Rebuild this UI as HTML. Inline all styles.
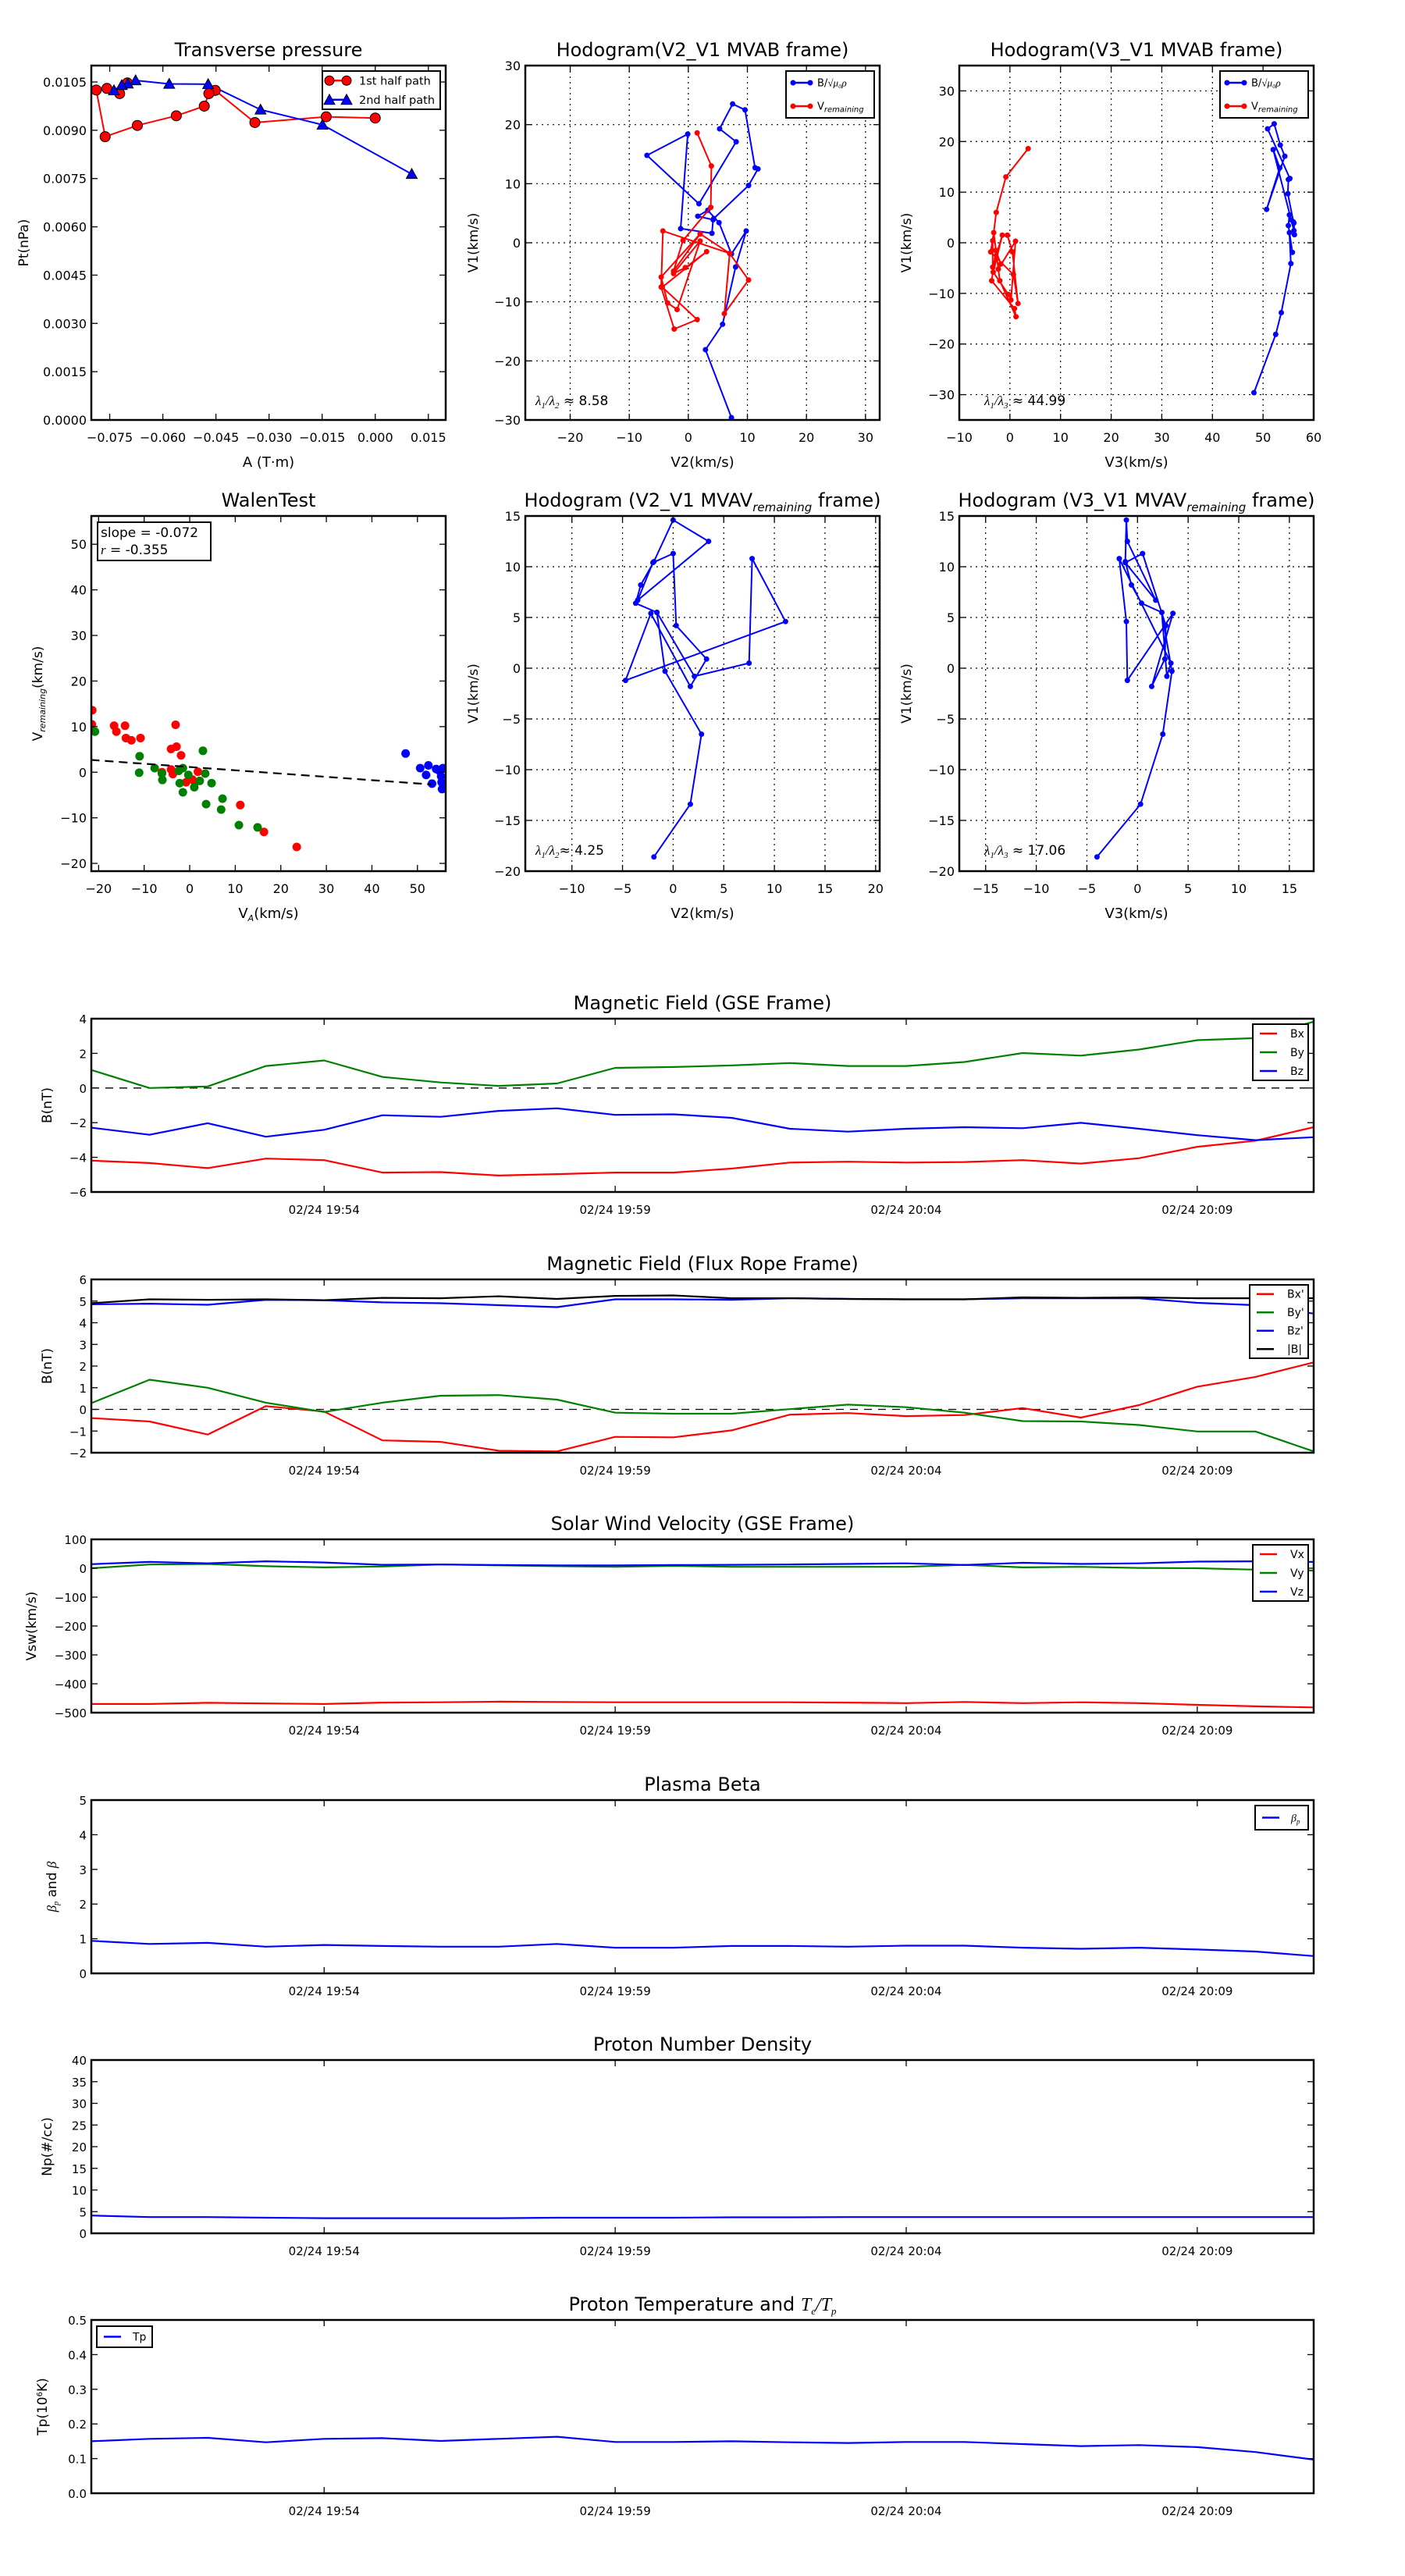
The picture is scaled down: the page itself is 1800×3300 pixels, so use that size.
<!DOCTYPE html>
<html><head><meta charset="utf-8"><title>Flux rope analysis</title>
<style>
html,body{margin:0;padding:0;background:#fff;}
svg{display:block;font-family:"DejaVu Sans","Liberation Sans",sans-serif;}
</style></head>
<body>
<svg id="chart" width="1800" height="3300" viewBox="0 0 1800 3300" xmlns="http://www.w3.org/2000/svg">
<rect x="0" y="0" width="1800" height="3300" fill="#fff"/>
</svg>
<script>
// ---------- data ----------
// Transverse pressure
const ptA1 = [0.0000,-0.01385,-0.0340,-0.0452,-0.0470,-0.0483,-0.0562,-0.0672,-0.0763,-0.0788,-0.0758,-0.0722,-0.0700];
const ptP1 = [0.00938,0.00942,0.00924,0.01024,0.01014,0.00975,0.00945,0.00915,0.00880,0.01025,0.01030,0.01014,0.01047];
const ptA2 = [0.0103,-0.0149,-0.0324,-0.0472,-0.0582,-0.0677,-0.0699,-0.0716,-0.0738];
const ptP2 = [0.00764,0.00917,0.00964,0.01043,0.01044,0.01055,0.01045,0.01040,0.01024];
// Hodogram MVAB
const hbV1 = [-29.6,-18.1,-13.8,-4.1,2.0,-1.9,3.4,5.5,4.5,3.9,1.6,2.4,18.4,14.8,6.6,17.1,19.3,23.5,22.5,12.7,12.5,9.7,4.1];
const hbV2 = [7.3,2.9,5.8,8.0,9.8,7.3,5.2,3.3,1.6,4.2,4.0,-1.3,-0.1,-7.0,1.8,8.1,5.3,7.5,9.6,11.3,11.8,10.2,4.3];
const hbV3 = [48.2,52.5,53.6,55.5,55.2,55.8,55.0,55.2,55.6,56.1,56.2,56.1,52.0,53.3,50.7,54.3,53.4,52.2,50.9,55.3,55.0,54.9,56.0];
const hvV1 = [18.6,13.0,6.0,0.4,-4.8,1.5,-5.8,-10.2,-11.3,0.3,-5.2,-4.2,-1.5,-7.5,-13.0,-14.6,-7.5,2.0,-1.8,-6.3,-12.0,-1.8,1.5];
const hvV2 = [1.5,3.9,3.8,-0.9,-2.5,2.0,-4.6,-3.5,-1.9,2.0,-2.5,-0.5,3.1,-4.4,1.5,-2.4,-4.6,-4.3,7.0,10.2,6.1,7.0,2.0];
const hvV3 = [3.6,-0.8,-2.7,-3.4,-3.4,-1.5,-3.3,-0.3,0.2,1.1,-2.3,-1.8,-2.8,-3.6,0.9,1.2,-2.0,-3.2,-3.8,0.7,1.6,0.5,-0.5];
// Hodogram MVAV remaining
const hrV1 = [-18.6,-13.4,-6.5,-0.3,5.5,6.4,8.2,10.5,14.6,12.5,6.7,10.4,11.3,4.2,0.9,-1.8,5.4,-1.2,4.6,10.8,0.5,-0.8,5.5];
const hrV2 = [-1.9,1.7,2.8,-0.8,-1.6,-3.7,-3.2,-1.9,0.0,3.5,-3.5,-2.0,0.0,0.3,3.3,1.7,-2.2,-4.7,11.1,7.8,7.5,2.1,-1.6];
const hrV3 = [-4.0,0.3,2.5,3.4,2.4,0.4,-0.6,-1.2,-1.1,-1.0,1.8,-1.2,0.5,2.8,2.7,1.4,3.5,-1.0,-1.1,-1.8,3.3,2.9,2.4];
// Walen test
const wRedX = [-21.4,-21.5,-16.6,-16.1,-14.2,-14.0,-12.8,-10.8,-3.1,-4.1,-2.9,-1.9,-4.1,-3.7,-0.8,0.6,1.8,1.2,11.1,16.3,23.5,-6.1];
const wRedY = [13.6,10.5,10.2,8.9,10.2,7.5,7.0,7.5,10.4,5.1,5.6,3.7,0.6,-0.4,-2.2,-1.6,0.1,-2.2,-7.2,-13.1,-16.4,0.0];
const wGrnX = [-20.8,-11.0,-11.1,-7.7,-6.1,-6.0,-2.4,-1.5,-0.3,-2.2,-1.5,1.0,2.2,3.4,2.9,4.8,3.6,7.2,6.9,10.8,14.9];
const wGrnY = [8.9,3.5,-0.1,0.9,-0.3,-1.7,0.3,0.9,-0.6,-2.4,-4.4,-3.3,-1.9,-0.3,4.7,-2.4,-7.0,-5.8,-8.2,-11.6,-12.1];
const wBluX = [47.4,50.6,52.4,51.9,53.2,54.1,55.6,55.2,55.3,55.4,54.7];
const wBluY = [4.1,0.9,1.5,-0.6,-2.5,0.7,0.9,-0.9,-2.2,-3.7,0.4];
const walenSlope = -0.072, walenIntercept = 1.14;
// Time series (minutes after 19:50)
const tMin = [0,1,2,3,4,5,6,7,8,9,10,11,12,13,14,15,16,17,18,19,20,21];
const timeTickMin = [4,9,14,19];
const timeTickLabels = ["02/24 19:54","02/24 19:59","02/24 20:04","02/24 20:09"];
const gseBx = [-4.19,-4.33,-4.62,-4.07,-4.16,-4.88,-4.85,-5.05,-4.97,-4.88,-4.88,-4.65,-4.30,-4.25,-4.30,-4.27,-4.16,-4.36,-4.05,-3.39,-3.04,-2.26];
const gseBy = [1.04,0.0,0.09,1.27,1.59,0.64,0.32,0.12,0.26,1.16,1.21,1.30,1.44,1.27,1.27,1.50,2.02,1.87,2.22,2.76,2.88,3.83];
const gseBz = [-2.29,-2.70,-2.03,-2.81,-2.41,-1.57,-1.66,-1.32,-1.17,-1.55,-1.52,-1.72,-2.35,-2.52,-2.35,-2.26,-2.32,-2.01,-2.35,-2.72,-3.01,-2.84];
const frBx = [-0.4,-0.56,-1.16,0.15,-0.1,-1.43,-1.5,-1.91,-1.94,-1.27,-1.29,-0.97,-0.24,-0.17,-0.31,-0.26,0.06,-0.38,0.2,1.05,1.5,2.17];
const frBy = [0.29,1.37,1.0,0.31,-0.12,0.31,0.63,0.66,0.45,-0.15,-0.2,-0.2,0.01,0.22,0.1,-0.15,-0.54,-0.56,-0.72,-1.02,-1.02,-1.94];
const frBz = [4.85,4.88,4.83,5.06,5.04,4.94,4.9,4.81,4.72,5.08,5.08,5.06,5.13,5.1,5.08,5.08,5.13,5.13,5.13,4.92,4.81,4.42];
const frBt = [4.9,5.08,5.06,5.08,5.04,5.15,5.13,5.22,5.1,5.24,5.26,5.13,5.13,5.1,5.08,5.08,5.17,5.15,5.17,5.13,5.13,5.13];
const vx = [-470,-470,-466,-468,-470,-465,-464,-462,-463,-464,-464,-464,-464,-465,-467,-463,-467,-464,-467,-473,-478,-482];
const vy = [0,13,15,7,3,6,13,10,7,5,8,5,5,5,5,12,3,5,1,0,-5,-8];
const vz = [14,22,17,24,20,12,13,11,10,10,11,12,13,15,17,11,19,15,17,23,24,22];
const betaP = [0.94,0.85,0.88,0.77,0.82,0.79,0.77,0.77,0.85,0.74,0.74,0.79,0.79,0.77,0.80,0.80,0.74,0.71,0.74,0.69,0.63,0.50];
const np = [4.1,3.75,3.75,3.6,3.5,3.5,3.5,3.5,3.6,3.6,3.6,3.7,3.7,3.75,3.75,3.75,3.75,3.75,3.75,3.75,3.75,3.75];
const tp = [0.150,0.157,0.160,0.147,0.157,0.159,0.151,0.157,0.163,0.148,0.148,0.150,0.147,0.145,0.148,0.148,0.142,0.136,0.139,0.133,0.119,0.097];

// ---------- helpers ----------
const NS = "http://www.w3.org/2000/svg";
const svg = document.getElementById("chart");
function mk(tag, parent, attrs) {
  const e = document.createElementNS(NS, tag);
  for (const k in attrs) e.setAttribute(k, attrs[k]);
  parent.appendChild(e);
  return e;
}
function fmtNum(v, d) {
  const s = Math.abs(v).toFixed(d);
  return (v < -1e-12 ? "\u2212" : "") + s;
}
function range(a, b, s) { const r = []; for (let v = a; v <= b + s * 1e-6; v += s) r.push(+v.toFixed(6)); return r; }

function makeAxes(c) {
  const g = mk("g", svg, {});
  
  
  const sx = v => c.x + (v - c.xmin) / (c.xmax - c.xmin) * c.w;
  const sy = v => c.y + c.h - (v - c.ymin) / (c.ymax - c.ymin) * c.h;
  const clipId = "clip-" + c.name;
  const cp = mk("clipPath", g, { id: clipId });
  mk("rect", cp, { x: c.x, y: c.y, width: c.w, height: c.h });
  // grid
  if (c.grid) {
    c.xticks.forEach(v => {
      const l = mk("line", g, { x1: sx(v), x2: sx(v), y1: c.y, y2: c.y + c.h, stroke: "#000", "stroke-width": 1.2, "stroke-dasharray": "2,5" });
      
      
    });
    c.yticks.forEach(v => {
      const l = mk("line", g, { x1: c.x, x2: c.x + c.w, y1: sy(v), y2: sy(v), stroke: "#000", "stroke-width": 1.2, "stroke-dasharray": "2,5" });
      
      
    });
  }
  const plot = mk("g", g, { "clip-path": "url(#" + clipId + ")" });
  
  
  // ticks
  const tl = 8;
  c.xticks.forEach((v, i) => {
    const X = sx(v);
    mk("line", g, { x1: X, x2: X, y1: c.y + c.h, y2: c.y + c.h - tl, stroke: "#000", "stroke-width": 1.3 });
    mk("line", g, { x1: X, x2: X, y1: c.y, y2: c.y + tl, stroke: "#000", "stroke-width": 1.3 });
    const t = mk("text", g, { x: X, y: c.y + c.h + 28, "text-anchor": "middle", "font-size": c.tickFs || 16, fill: "#000" });
    t.textContent = c.xlabels ? c.xlabels[i] : fmtNum(v, c.xdec || 0);
    
    
  });
  c.yticks.forEach(v => {
    const Y = sy(v);
    mk("line", g, { x1: c.x, x2: c.x + tl, y1: Y, y2: Y, stroke: "#000", "stroke-width": 1.3 });
    mk("line", g, { x1: c.x + c.w, x2: c.x + c.w - tl, y1: Y, y2: Y, stroke: "#000", "stroke-width": 1.3 });
    const t = mk("text", g, { x: c.x - 6, y: Y + 6, "text-anchor": "end", "font-size": c.tickFs || 16, fill: "#000" });
    t.textContent = fmtNum(v, c.ydec || 0);
    
    
  });
  // frame
  const fr = mk("rect", g, { x: c.x, y: c.y, width: c.w, height: c.h, fill: "none", stroke: "#000", "stroke-width": 2.5 });
  
  
  // title
  const tt = mk("text", g, { x: c.x + c.w / 2, y: c.y - 12, "text-anchor": "middle", "font-size": 24, fill: "#000" });
  tt.innerHTML = c.title;
  
  
  if (c.xlabel) {
    const xl = mk("text", g, { x: c.x + c.w / 2, y: c.y + c.h + 60, "text-anchor": "middle", "font-size": 18, fill: "#000" });
    xl.innerHTML = c.xlabel;
    
    
  }
  if (c.ylabel) {
    const yx = c.ylabelX, yy = c.y + c.h / 2;
    const yl = mk("text", g, { x: yx, y: yy, "text-anchor": "middle", "font-size": 17, fill: "#000", transform: "rotate(-90 " + yx + " " + yy + ")" });
    yl.innerHTML = c.ylabel;
    
    
  }
  return { g, plot, sx, sy };
}
function polyline(ax, xs, ys, color, w, name) {
  const pts = xs.map((v, i) => ax.sx(v).toFixed(1) + "," + ax.sy(ys[i]).toFixed(1)).join(" ");
  const p = mk("polyline", ax.plot, { points: pts, fill: "none", stroke: color, "stroke-width": w, "stroke-linejoin": "round" });
  
  
  return p;
}
function dots(ax, xs, ys, color, r, name, stroke) {
  xs.forEach((v, i) => {
    const c = mk("circle", ax.plot, { cx: ax.sx(v), cy: ax.sy(ys[i]), r: r, fill: color, stroke: stroke || "none", "stroke-width": 1 });
    
    
  });
}
function tris(ax, xs, ys, color, s, name) {
  xs.forEach((v, i) => {
    const X = ax.sx(v), Y = ax.sy(ys[i]);
    const p = mk("polygon", ax.plot, { points: `${X},${Y - s} ${X - s},${Y + s * 0.8} ${X + s},${Y + s * 0.8}`, fill: color, stroke: "#000", "stroke-width": 1 });
    
    
  });
}
function legend(x, y, w, h, items, fs, name) {
  const g = mk("g", svg, {});
  
  
  mk("rect", g, { x: x, y: y, width: w, height: h, fill: "#fff", stroke: "#000", "stroke-width": 2 });
  const step = h / items.length;
  items.forEach((it, i) => {
    const cy = y + step * (i + 0.5);
    const e = mk("g", g, {});
    
    
    mk("line", e, { x1: x + 9, x2: x + 31, y1: cy, y2: cy, stroke: it.c, "stroke-width": 2.5 });
    if (it.m === "o") { mk("circle", e, { cx: x + 9, cy: cy, r: it.r, fill: it.c, stroke: it.s || "none" }); mk("circle", e, { cx: x + 31, cy: cy, r: it.r, fill: it.c, stroke: it.s || "none" }); }
    if (it.m === "^") { [x + 9, x + 31].forEach(X => mk("polygon", e, { points: `${X},${cy - 7} ${X - 7},${cy + 6} ${X + 7},${cy + 6}`, fill: it.c, stroke: "#000" })); }
    const t = mk("text", e, { x: x + it.tx, y: cy + fs * 0.35, "font-size": fs, fill: "#000" });
    t.innerHTML = it.t;
  });
}

// ---------- Panel 1: Transverse pressure ----------
const ax1 = makeAxes({ name: "transverse-pressure-panel", x: 117, y: 84, w: 454, h: 454, xmin: -0.0802, xmax: 0.0199, ymin: 0, ymax: 0.01101,
  xticks: range(-0.075, 0.015, 0.015), yticks: range(0, 0.0105, 0.0015), xdec: 3, ydec: 4,
  title: "Transverse pressure", xlabel: "A (T\u00b7m)", ylabel: "Pt(nPa)", ylabelX: 36 });
polyline(ax1, ptA1, ptP1, "red", 2, "series-1st-half-path");
polyline(ax1, ptA2, ptP2, "blue", 2, "series-2nd-half-path");
dots(ax1, ptA1, ptP1, "red", 6.5, "point-1st-half", "#000");
tris(ax1, ptA2, ptP2, "blue", 7, "point-2nd-half");
legend(413, 91, 151, 49, [{ c: "red", m: "o", r: 6, s: "#000", t: "1st half path", tx: 47 }, { c: "blue", m: "^", t: "2nd half path", tx: 47 }], 14.5, "legend-transverse-pressure");

// ---------- Panel 2: Hodogram V2_V1 MVAB ----------
const ax2 = makeAxes({ name: "hodogram-v2-v1-mvab", x: 673, y: 84, w: 454, h: 454, xmin: -27.6, xmax: 32.4, ymin: -30, ymax: 30, grid: true,
  xticks: range(-20, 30, 10), yticks: range(-30, 30, 10),
  title: "Hodogram(V2_V1 MVAB frame)", xlabel: "V2(km/s)", ylabel: "V1(km/s)", ylabelX: 612 });
polyline(ax2, hbV2, hbV1, "blue", 2, "series-b-alfven");
dots(ax2, hbV2, hbV1, "blue", 3.5, "point-b-alfven");
polyline(ax2, hvV2, hvV1, "red", 2, "series-v-remaining");
dots(ax2, hvV2, hvV1, "red", 3.5, "point-v-remaining");
const l2 = mk("text", svg, { x: 686, y: 519, "font-size": 17 }); l2.innerHTML = '<tspan font-style="italic" font-family="Liberation Serif, serif">\u03bb<tspan font-size="11" dy="4">1</tspan><tspan dy="-4">/\u03bb</tspan><tspan font-size="11" dy="4">2</tspan></tspan><tspan dy="-4"> \u2248 8.58</tspan>';


const hodoLegend = (x, n) => legend(x, 91, 113, 60, [{ c: "blue", m: "o", r: 3.5, t: 'B/<tspan font-style="italic" font-family="Liberation Serif, serif">\u221a\u03bc\u2080\u03c1</tspan>', tx: 40 }, { c: "red", m: "o", r: 3.5, t: 'V<tspan font-size="10" font-style="italic" dy="3">remaining</tspan>', tx: 40 }], 13, n);
hodoLegend(1007, "legend-hodogram-v2-v1");

// ---------- Panel 3: Hodogram V3_V1 MVAB ----------
const ax3 = makeAxes({ name: "hodogram-v3-v1-mvab", x: 1229, y: 84, w: 454, h: 454, xmin: -10, xmax: 60, ymin: -35, ymax: 35, grid: true,
  xticks: range(-10, 60, 10), yticks: range(-30, 30, 10),
  title: "Hodogram(V3_V1 MVAB frame)", xlabel: "V3(km/s)", ylabel: "V1(km/s)", ylabelX: 1167 });
polyline(ax3, hbV3, hbV1, "blue", 2, "series-b-alfven");
dots(ax3, hbV3, hbV1, "blue", 3.5, "point-b-alfven");
polyline(ax3, hvV3, hvV1, "red", 2, "series-v-remaining");
dots(ax3, hvV3, hvV1, "red", 3.5, "point-v-remaining");
const l3 = mk("text", svg, { x: 1261, y: 519, "font-size": 17 }); l3.innerHTML = '<tspan font-style="italic" font-family="Liberation Serif, serif">\u03bb<tspan font-size="11" dy="4">1</tspan><tspan dy="-4">/\u03bb</tspan><tspan font-size="11" dy="4">3</tspan></tspan><tspan dy="-4"> \u2248 44.99</tspan>';


hodoLegend(1563, "legend-hodogram-v3-v1");

// ---------- Panel 4: Walen test ----------
const ax4 = makeAxes({ name: "walen-test-panel", x: 117, y: 661, w: 454, h: 455, xmin: -21.6, xmax: 56.2, ymin: -21.7, ymax: 56.2,
  xticks: range(-20, 50, 10), yticks: range(-20, 50, 10),
  title: "WalenTest", xlabel: 'V<tspan font-size="11" font-style="italic" dy="4">A</tspan><tspan dy="-4">(km/s)</tspan>', ylabel: 'V<tspan font-size="11" font-style="italic" dy="4">remaining</tspan><tspan dy="-4">(km/s)</tspan>', ylabelX: 54 });
dots(ax4, wRedX, wRedY, "red", 5.5, "point-walen-red");
dots(ax4, wGrnX, wGrnY, "green", 5.5, "point-walen-green");
dots(ax4, wBluX, wBluY, "blue", 5.5, "point-walen-blue");
const fitX = [-21.7, 53];
const fitLine = mk("line", ax4.plot, { x1: ax4.sx(fitX[0]), y1: ax4.sy(walenIntercept + walenSlope * fitX[0]), x2: ax4.sx(fitX[1]), y2: ax4.sy(walenIntercept + walenSlope * fitX[1]), stroke: "#000", "stroke-width": 2.2, "stroke-dasharray": "11,7" });


const wb = mk("g", svg, {});


mk("rect", wb, { x: 125, y: 669, width: 145, height: 49, fill: "#fff", stroke: "#000", "stroke-width": 2 });
const ws1 = mk("text", wb, { x: 129, y: 688, "font-size": 17 }); ws1.textContent = "slope = -0.072";
const ws2 = mk("text", wb, { x: 129, y: 710, "font-size": 17 }); ws2.innerHTML = '<tspan font-style="italic" font-family="Liberation Serif, serif">r</tspan> = -0.355';

// ---------- Panel 5: Hodogram V2_V1 MVAV ----------
const ax5 = makeAxes({ name: "hodogram-v2-v1-mvav", x: 673, y: 661, w: 454, h: 455, xmin: -14.6, xmax: 20.4, ymin: -20, ymax: 15, grid: true,
  xticks: range(-10, 20, 5), yticks: range(-20, 15, 5),
  title: 'Hodogram (V2_V1 MVAV<tspan font-size="15" font-style="italic" dy="6">remaining</tspan><tspan dy="-6"> frame)</tspan>', xlabel: "V2(km/s)", ylabel: "V1(km/s)", ylabelX: 612 });
polyline(ax5, hrV2, hrV1, "blue", 2, "series-b-alfven");
dots(ax5, hrV2, hrV1, "blue", 3.5, "point-b-alfven");
const l5 = mk("text", svg, { x: 686, y: 1095, "font-size": 17 }); l5.innerHTML = '<tspan font-style="italic" font-family="Liberation Serif, serif">\u03bb<tspan font-size="11" dy="4">1</tspan><tspan dy="-4">/\u03bb</tspan><tspan font-size="11" dy="4">2</tspan></tspan><tspan dy="-4">\u2248 4.25</tspan>';



// ---------- Panel 6: Hodogram V3_V1 MVAV ----------
const ax6 = makeAxes({ name: "hodogram-v3-v1-mvav", x: 1229, y: 661, w: 454, h: 455, xmin: -17.6, xmax: 17.4, ymin: -20, ymax: 15, grid: true,
  xticks: range(-15, 15, 5), yticks: range(-20, 15, 5),
  title: 'Hodogram (V3_V1 MVAV<tspan font-size="15" font-style="italic" dy="6">remaining</tspan><tspan dy="-6"> frame)</tspan>', xlabel: "V3(km/s)", ylabel: "V1(km/s)", ylabelX: 1167 });
polyline(ax6, hrV3, hrV1, "blue", 2, "series-b-alfven");
dots(ax6, hrV3, hrV1, "blue", 3.5, "point-b-alfven");
const l6 = mk("text", svg, { x: 1261, y: 1095, "font-size": 17 }); l6.innerHTML = '<tspan font-style="italic" font-family="Liberation Serif, serif">\u03bb<tspan font-size="11" dy="4">1</tspan><tspan dy="-4">/\u03bb</tspan><tspan font-size="11" dy="4">3</tspan></tspan><tspan dy="-4"> \u2248 17.06</tspan>';



// ---------- Time series ----------
function tsAxes(name, top, ymin, ymax, yticks, ydec, title, ylabel, ylx) {
  return makeAxes({ name: name, x: 117, y: top, w: 1566, h: 222, xmin: 0, xmax: 21, ymin: ymin, ymax: ymax,
    xticks: timeTickMin, xlabels: timeTickLabels, yticks: yticks, ydec: ydec, tickFs: 15, title: title, ylabel: ylabel, ylabelX: ylx });
}
function zeroLine(ax, name) {
  const l = mk("line", ax.plot, { x1: ax.sx(0), x2: ax.sx(21), y1: ax.sy(0), y2: ax.sy(0), stroke: "#000", "stroke-width": 1.3, "stroke-dasharray": "10,8" });
  
  
}
const a7 = tsAxes("magnetic-field-gse-panel", 1305, -6, 4, range(-6, 4, 2), 0, "Magnetic Field (GSE Frame)", "B(nT)", 66);
zeroLine(a7, "zero-line");
polyline(a7, tMin, gseBx, "red", 2.2, "series-bx");
polyline(a7, tMin, gseBy, "green", 2.2, "series-by");
polyline(a7, tMin, gseBz, "blue", 2.2, "series-bz");
legend(1605, 1312, 71, 72, [{ c: "red", t: "Bx", tx: 48 }, { c: "green", t: "By", tx: 48 }, { c: "blue", t: "Bz", tx: 48 }], 14, "legend-gse");

const a8 = tsAxes("magnetic-field-flux-rope-panel", 1639, -2, 6, range(-2, 6, 1), 0, "Magnetic Field (Flux Rope Frame)", "B(nT)", 66);
zeroLine(a8, "zero-line");
polyline(a8, tMin, frBx, "red", 2.2, "series-bx-prime");
polyline(a8, tMin, frBy, "green", 2.2, "series-by-prime");
polyline(a8, tMin, frBz, "blue", 2.2, "series-bz-prime");
polyline(a8, tMin, frBt, "black", 2.2, "series-b-total");
legend(1601, 1646, 75, 94, [{ c: "red", t: "Bx'", tx: 48 }, { c: "green", t: "By'", tx: 48 }, { c: "blue", t: "Bz'", tx: 48 }, { c: "black", t: "|B|", tx: 48 }], 14, "legend-flux-rope");

const a9 = tsAxes("solar-wind-velocity-panel", 1972, -500, 100, range(-500, 100, 100), 0, "Solar Wind Velocity (GSE Frame)", "Vsw(km/s)", 46);
polyline(a9, tMin, vx, "red", 2.2, "series-vx");
polyline(a9, tMin, vy, "green", 2.2, "series-vy");
polyline(a9, tMin, vz, "blue", 2.2, "series-vz");
legend(1605, 1979, 71, 72, [{ c: "red", t: "Vx", tx: 48 }, { c: "green", t: "Vy", tx: 48 }, { c: "blue", t: "Vz", tx: 48 }], 14, "legend-velocity");

const a10 = tsAxes("plasma-beta-panel", 2306, 0, 5, range(0, 5, 1), 0, "Plasma Beta", '<tspan font-style="italic" font-family="Liberation Serif, serif">\u03b2<tspan font-size="10" dy="3">p</tspan></tspan><tspan dy="-3"> and </tspan><tspan font-style="italic" font-family="Liberation Serif, serif">\u03b2</tspan>', 72);
polyline(a10, tMin, betaP, "blue", 2.2, "series-beta-p");
legend(1608, 2313, 68, 31, [{ c: "blue", t: '<tspan font-style="italic" font-family="Liberation Serif, serif">\u03b2<tspan font-size="9" dy="3">p</tspan></tspan>', tx: 46 }], 14, "legend-beta");

const a11 = tsAxes("proton-density-panel", 2639, 0, 40, range(0, 40, 5), 0, "Proton Number Density", "Np(#/cc)", 66);
polyline(a11, tMin, np, "blue", 2.2, "series-np");

const a12 = tsAxes("proton-temperature-panel", 2972, 0, 0.5, range(0, 0.5, 0.1), 1, 'Proton Temperature and <tspan font-style="italic" font-family="Liberation Serif, serif">T<tspan font-size="13" dy="5">e</tspan><tspan dy="-5">/T</tspan><tspan font-size="13" dy="5">p</tspan></tspan>', 'Tp(10<tspan font-size="10" dy="-6">6</tspan><tspan dy="6">K)</tspan>', 60);
polyline(a12, tMin, tp, "blue", 2.2, "series-tp");
legend(124, 2980, 71, 27, [{ c: "blue", t: "Tp", tx: 46 }], 14, "legend-tp");
</script>
</body></html>
